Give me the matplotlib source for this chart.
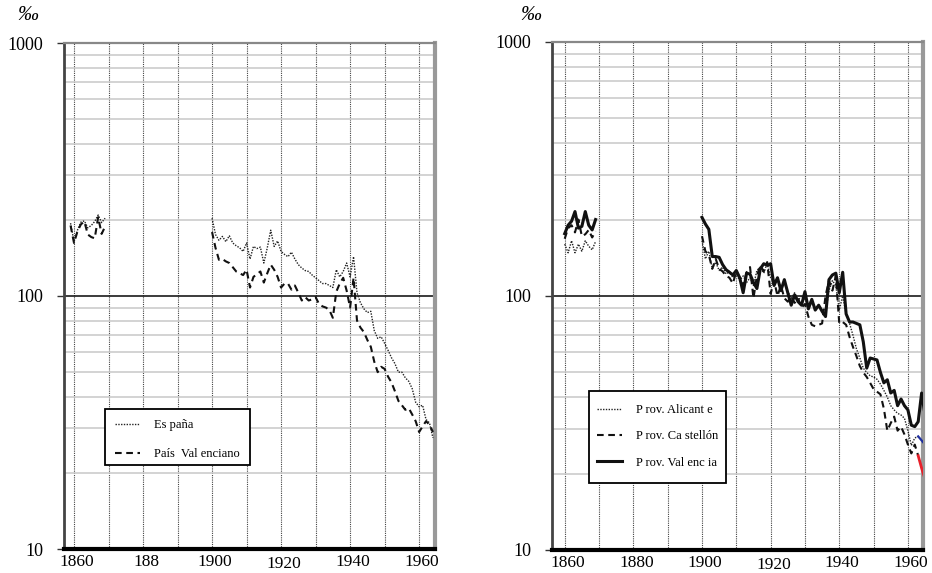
import numpy as np
import matplotlib
matplotlib.use("Agg")
import matplotlib.pyplot as plt
from matplotlib.ticker import FixedLocator, FixedFormatter, LogLocator, NullFormatter
from matplotlib.patches import Rectangle
from matplotlib.transforms import ScaledTranslation

# ---------------- data (‰) ----------------
# Left panel
years_early_L = list(range(1859, 1870))
espana_early = [194, 164, 182, 196, 198, 186, 190, 197, 209, 195, 203]
pv_early = [190, 162, 180, 192, 197, 175, 171, 169, 205, 176, 188]

years_main_L = list(range(1900, 1965))
espana_main = [203, 175, 166, 172, 164, 173, 162, 158, 155, 150,
               162, 140, 157, 154, 156, 135, 155, 182, 157, 165,
               150, 146, 143, 149, 140, 133, 129, 126, 125, 121,
               118, 115, 112, 112, 110, 108, 127, 119, 125, 135,
               119, 143, 103, 94, 89, 86, 87, 73, 68, 69,
               65, 61, 57, 54, 50, 50, 47.5, 46, 43, 38,
               36.5, 37, 32.5, 31.5, 27.5]
pv_main = [179, 155, 139, 140, 137, 135, 130, 125, 123, 121,
           127, 108, 119, 122, 125, 113, 123, 133, 127, 119,
           108, 112, 112, 106, 110, 103, 96, 99, 96, 97,
           99, 93, 91, 90, 88, 82, 104, 112, 118, 105,
           90, 118, 80, 75, 72, 67, 63, 55, 50, 52.5,
           51.5, 48, 45.5, 42, 38.5, 37, 35.5, 36, 34, 32,
           29, 30.5, 32, 31, 29]

# Right panel
years_early_R = list(range(1860, 1870))
alicante_early = [160, 148, 165, 148, 160, 150, 165, 157, 152, 164]
castellon_early = [168, 185, 190, 178, 200, 172, 175, 182, 170, 180]
valencia_early = [176, 190, 197, 215, 185, 188, 215, 190, 182, 200]

years_main_R = list(range(1900, 1966))
alicante_main = [165, 140, 150, 128, 136, 126, 130, 122, 125, 118,
                 122, 115, 120, 113, 118, 110, 126, 130, 123, 135,
                 118, 112, 117, 108, 112, 104, 98, 103, 96, 100,
                 97, 93, 96, 89, 92, 88, 85, 105, 115, 110,
                 88, 100, 85, 78, 70, 62, 57, 52, 50, 48.5,
                 48, 47, 45, 42.5, 40, 37, 35.6, 34.5, 34, 33,
                 29.5, 25.8, 27.6, 28, 27, 26]
castellon_main = [172, 150, 145, 128, 140, 128, 125, 120, 118, 112,
                  125, 118, 110, 124, 130, 98, 120, 132, 125, 136,
                  102, 115, 100, 110, 98, 95, 99, 94, 98, 90,
                  93, 83, 77, 76, 77, 78, 100, 115, 105, 120,
                  78, 79, 77, 69, 63, 58, 53, 50, 48, 45.5,
                  43, 42, 41, 36, 29.5, 31.6, 33.5, 29.5, 30.6, 28.5,
                  26, 24, 26, 23.5, 21, 19]
valencia_main = [204, 192, 183, 143, 143, 142, 133, 127, 124, 121,
                 126, 118, 103, 123, 122, 113, 107, 128, 134, 132,
                 134, 110, 118, 105, 116, 103, 92, 101, 95, 92,
                 104, 89, 97, 88, 92, 87, 83, 116, 121, 123,
                 103, 124, 85, 79, 79, 78, 77, 66, 52, 57,
                 56.5, 56, 50, 45.5, 46.8, 41.5, 42.5, 37, 39.3, 37,
                 35.6, 31, 30.6, 32, 41.5, 34]
tail_start_year = 1963  # last stretch of Alicante / Castellón drawn in colour

grid_years = list(range(1860, 1961, 10))
xlabels_L = ['1860', '', '188', '', '1900', '', '1920', '', '1940', '', '1960']
xlabels_R = ['1860', '', '1880', '', '1900', '', '1920', '', '1940', '', '1960']
ytick_vals = [10, 100, 1000]
ytick_labels = ['10', '100', '1000']
legend_L = ['Es paña', 'País  Val enciano']
legend_R = ['P rov. Alicant e', 'P rov. Ca stellón', 'P rov. Val enc ia']

# ---------------- style ----------------
plt.rcParams['font.family'] = ['Liberation Serif', 'DejaVu Serif']

W, H = 932, 573
fig = plt.figure(figsize=(W / 100, H / 100), dpi=100)
axL = fig.add_axes([64 / W, 24 / H, 371 / W, 506 / H])
axR = fig.add_axes([552 / W, 23 / H, 371 / W, 508 / H])

DOT = (0, (1, 1))
DASH = (0, (3.2, 2.2))


def fx(px):
    return px / W


def fy(py):
    return 1 - py / H


def style_axes(ax, xlim, xlabels):
    ax.set_yscale('log')
    ax.set_ylim(10, 1000)
    ax.set_xlim(*xlim)
    ax.yaxis.set_major_locator(FixedLocator(ytick_vals))
    ax.yaxis.set_major_formatter(FixedFormatter(ytick_labels))
    ax.yaxis.set_minor_locator(LogLocator(base=10, subs=np.arange(2, 10)))
    ax.yaxis.set_minor_formatter(NullFormatter())
    ax.xaxis.set_major_locator(FixedLocator(grid_years))
    ax.xaxis.set_major_formatter(FixedFormatter(xlabels))
    ax.grid(which='minor', axis='y', color='#c8c8c8', lw=1.1, zorder=0)
    ax.grid(which='major', axis='x', color='#444444', lw=0.8, ls=DOT, zorder=0)
    ax.axhline(100, color='#1a1a1a', lw=1.2, zorder=1)
    ax.tick_params(axis='y', which='major', length=5, width=1, color='#333333',
                   labelsize=13, pad=10)
    ax.tick_params(axis='y', which='minor', length=0)
    ax.tick_params(axis='x', length=0, labelsize=12.5, pad=3.8)
    ax.set_axisbelow(True)
    ax.spines['left'].set_linewidth(2)
    ax.spines['left'].set_color('#444444')
    ax.spines['bottom'].set_linewidth(3)
    ax.spines['bottom'].set_color('#000000')
    ax.spines['top'].set_linewidth(1.6)
    ax.spines['top'].set_color('#888888')
    ax.spines['right'].set_linewidth(3)
    ax.spines['right'].set_color('#999999')
    ticks = ax.xaxis.get_major_ticks()
    # the "1920" label sits a little lower
    ticks[6].set_pad(5.0)
    shift = ScaledTranslation(3 / 100, 0, fig.dpi_scale_trans)
    for t in ticks:
        t.label1.set_transform(t.label1.get_transform() + shift)


style_axes(axL, (1857.1, 1964.6), xlabels_L)
style_axes(axR, (1856.3, 1964.4), xlabels_R)

# ---------- left panel ----------
l_esp, = axL.plot(years_early_L, espana_early, color='#222222', lw=1.0, ls=DOT, zorder=3)
axL.plot(years_main_L, espana_main, color='#222222', lw=1.0, ls=DOT, zorder=3)
l_pv, = axL.plot(years_early_L, pv_early, color='#111111', lw=1.5, ls=DASH, zorder=3)
axL.plot(years_main_L, pv_main, color='#111111', lw=1.5, ls=DASH, zorder=3)

# ---------- right panel ----------
yrs = np.array(years_main_R)
cut = years_main_R.index(tail_start_year)
l_ali, = axR.plot(years_early_R, alicante_early, color='#222222', lw=1.0, ls=DOT, zorder=3)
axR.plot(yrs[:cut + 1], alicante_main[:cut + 1], color='#222222', lw=1.0, ls=DOT, zorder=3)
axR.plot(yrs[cut:], alicante_main[cut:], color='#1f2f9f', lw=1.6, zorder=3)
l_cas, = axR.plot(years_early_R, castellon_early, color='#111111', lw=1.5, ls=DASH, zorder=3)
axR.plot(yrs[:cut + 1], castellon_main[:cut + 1], color='#111111', lw=1.5, ls=DASH, zorder=3)
axR.plot(yrs[cut:], castellon_main[cut:], color='#e8202a', lw=2.0, zorder=3)
l_val, = axR.plot(years_early_R, valencia_early, color='#111111', lw=2.2, zorder=4)
axR.plot(years_main_R, valencia_main, color='#111111', lw=2.2, zorder=4)

# ---------- legends (box drawn separately to match the original proportions) ----------
def legend_box(ax, x0, y0, x1, y1):
    r = Rectangle((fx(x0), fy(y1)), fx(x1) - fx(x0), fy(y0) - fy(y1),
                  transform=fig.transFigure, facecolor='white', edgecolor='black',
                  lw=1.3, zorder=6, clip_on=False)
    ax.add_patch(r)


legend_box(axL, 105, 409, 250, 465)
legL = axL.legend(handles=[l_esp, l_pv], labels=legend_L,
                  loc='upper left', bbox_to_anchor=(fx(115), fy(419)),
                  bbox_transform=fig.transFigure, borderaxespad=0, borderpad=0,
                  frameon=False, fontsize=9, handlelength=2.0, handletextpad=1.15,
                  labelspacing=1.38)
legL.set_zorder(7)

legend_box(axR, 589, 391, 726, 483)
legR = axR.legend(handles=[l_ali, l_cas, l_val], labels=legend_R,
                  loc='upper left', bbox_to_anchor=(fx(597), fy(404)),
                  bbox_transform=fig.transFigure, borderaxespad=0, borderpad=0,
                  frameon=False, fontsize=9, handlelength=2.0, handletextpad=1.1,
                  labelspacing=1.14)
legR.set_zorder(7)

# per-mille unit labels
fig.text(fx(28), fy(16), '‰', fontsize=15, style='italic', ha='center', va='center')
fig.text(fx(531), fy(16), '‰', fontsize=15, style='italic', ha='center', va='center')

fig.savefig('out.png', dpi=100)
